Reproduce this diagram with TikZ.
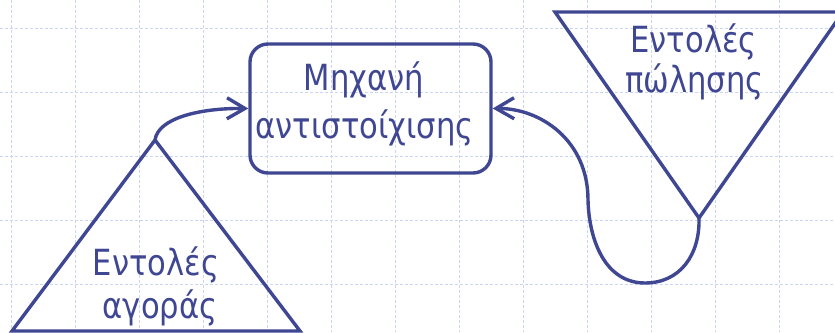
\documentclass[tikz,border=0pt]{standalone}
\usepackage{fontspec}
\setmainfont{DejaVu Sans}[FakeStretch=0.85]
\usetikzlibrary{arrows.meta}
\definecolor{ink}{HTML}{3F4793}
\definecolor{gridc}{HTML}{C8D5F5}
\tikzset{
  shapeline/.style={draw=ink, line width=3.4pt, line join=miter},
  conn/.style={draw=ink, line width=3.4pt, -{Straight Barb[length=18pt,width=21pt,line width=3.4pt]}},
  txt/.style={text=ink, font=\fontsize{36}{44}\selectfont, inner sep=0pt, anchor=base},
  gridline/.style={draw=gridc, line width=1pt, dash pattern=on 3pt off 2pt}
}
\begin{document}
\begin{tikzpicture}[x=1pt,y=-1pt]
\useasboundingbox (0,0) rectangle (835,332);
\fill[white] (0,0) rectangle (835,332);
\clip (0,0) rectangle (835,332);
% grid
\foreach \gx in {11,75,...,843} {\draw[gridline] (\gx,0) -- (\gx,332);}
\foreach \gy in {28,92,156,220,284} {\draw[gridline] (0,\gy) -- (835,\gy);}
% buy triangle
\coordinate (buyApex) at (155,140);
\coordinate (buyBL) at (12,331);
\coordinate (buyBR) at (300,331);
\draw[shapeline] (buyApex) -- (buyBL) -- (buyBR) -- cycle;
\node[txt] (buy1) at (156,275) {Εντολές};
\node[txt] (buy2) at (160,318) {αγοράς};
% sell triangle
\coordinate (sellTL) at (555,12);
\coordinate (sellTR) at (843,12);
\coordinate (sellApex) at (699,218);
\draw[shapeline] (sellTL) -- (sellTR) -- (sellApex) -- cycle;
\node[txt] (sell1) at (693.5,52) {Εντολές};
\node[txt] (sell2) at (694.5,92) {πώλησης};
% matching engine
\node[shapeline, rounded corners=18pt, minimum width=241pt, minimum height=129pt, inner sep=0pt] (engine) at (370.5,108.5) {};
\node[txt] (eng1) at (364,90) {Μηχανή};
\node[txt] (eng2) at (364.5,138) {αντιστοίχισης};
% connectors
\draw[conn] (buyApex) .. controls (158,118) and (200,108) .. (engine.west);
\draw[conn] (sellApex) .. controls (700,255) and (680,283) .. (645,283)
  .. controls (605,283) and (589,240) .. (588,200)
  .. controls (588,140) and (540,108) .. (engine.east);
\end{tikzpicture}
\end{document}
